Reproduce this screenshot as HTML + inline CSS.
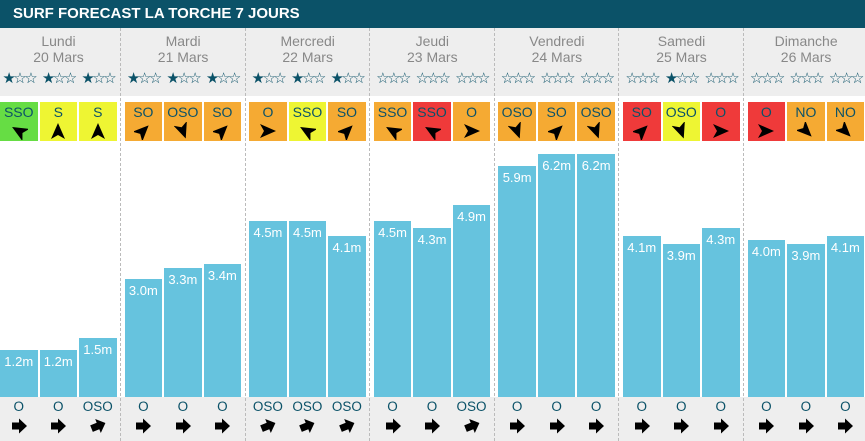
<!DOCTYPE html>
<html><head><meta charset="utf-8"><style>
*{margin:0;padding:0;box-sizing:border-box}
body{width:865px;height:441px;overflow:hidden;background:#fff;font-family:"Liberation Sans",Arial,sans-serif;position:relative}
.hdr{position:absolute;left:0;top:0;width:865px;height:28px;background:#0b5268;color:#fff;font-weight:bold;font-size:15px;line-height:28px;padding-left:13px}
.gtop{position:absolute;left:0;top:28px;width:865px;height:68px;background:#eeeeee}
.gbot{position:absolute;left:0;top:397px;width:865px;height:44px;background:#eeeeee}
.div{position:absolute;top:28px;height:413px;border-left:1px dashed #bbb;width:0}
.day{position:absolute;top:28px;width:117px;height:413px}
.dn{position:absolute;top:5px;left:0;width:117px;text-align:center;color:#888;font-size:14px;line-height:16px}
.s{position:absolute;width:37.5px}
.st{top:43px;height:15px;font-family:"DejaVu Sans",sans-serif;font-size:15px;color:#0b5268;text-align:center;letter-spacing:-2.5px;line-height:15px;white-space:nowrap;overflow:visible}
.w{top:74px;height:39px;text-align:center;color:#0b5268;font-size:14px;line-height:15px;padding-top:3px}
.w svg{display:block;margin:2px auto 0}
.g{background:#66dd44}.y{background:#eef533}.o{background:#f5aa33}.r{background:#ef3a3a}
.b{background:#66c3de;color:#fff;font-size:13px;text-align:center;line-height:14px;padding-top:5px;bottom:44px}
.sw{top:372px;height:40px;text-align:center;color:#0b5268;font-size:13.5px;line-height:14px}
.sw svg{display:block;margin:4px auto 0}
</style></head><body>
<div class="hdr">SURF FORECAST LA TORCHE 7 JOURS</div>
<div class="gtop"></div><div class="gbot"></div>
<div class="div" style="left:120px"></div><div class="div" style="left:245px"></div><div class="div" style="left:369px"></div><div class="div" style="left:494px"></div><div class="div" style="left:618px"></div><div class="div" style="left:743px"></div>
<svg width="0" height="0" style="position:absolute"><defs>
<path id="wa" d="M0 -8 L7 8 L0 4 L-7 8 Z" fill="#000"/>
<path id="sa" d="M-7 -3.5 H0 V-7.5 L8 0 L0 7.5 V3.5 H-7 Z" fill="#000"/>
</defs></svg>

<!-- Day 1 -->
<div class="day" style="left:0px"><div class="dn">Lundi<br>20 Mars</div>
<div class="s st" style="left:0">★☆☆</div><div class="s st" style="left:39.5px">★☆☆</div><div class="s st" style="left:79px">★☆☆</div>
<div class="s w g" style="left:0">SSO<svg width="18" height="18" viewBox="-9 -9 18 18"><use href="#wa" transform="rotate(-60)"/></svg></div>
<div class="s w y" style="left:39.5px">S<svg width="18" height="18" viewBox="-9 -9 18 18"><use href="#wa"/></svg></div>
<div class="s w y" style="left:79px">S<svg width="18" height="18" viewBox="-9 -9 18 18"><use href="#wa"/></svg></div>
<div class="s b" style="left:0;height:47px">1.2m</div><div class="s b" style="left:39.5px;height:47px">1.2m</div><div class="s b" style="left:79px;height:59px">1.5m</div>
<div class="s sw" style="left:0">O<svg width="18" height="16" viewBox="-9 -8 18 16"><use href="#sa"/></svg></div>
<div class="s sw" style="left:39.5px">O<svg width="18" height="16" viewBox="-9 -8 18 16"><use href="#sa"/></svg></div>
<div class="s sw" style="left:79px">OSO<svg width="18" height="16" viewBox="-9 -8 18 16"><use href="#sa" transform="rotate(-22)"/></svg></div>
</div>

<!-- Day 2 -->
<div class="day" style="left:124.6px"><div class="dn">Mardi<br>21 Mars</div>
<div class="s st" style="left:0">★☆☆</div><div class="s st" style="left:39.5px">★☆☆</div><div class="s st" style="left:79px">★☆☆</div>
<div class="s w o" style="left:0">SO<svg width="18" height="18" viewBox="-9 -9 18 18"><use href="#wa" transform="rotate(45)"/></svg></div>
<div class="s w o" style="left:39.5px">OSO<svg width="18" height="18" viewBox="-9 -9 18 18"><use href="#wa" transform="rotate(160)"/></svg></div>
<div class="s w o" style="left:79px">SO<svg width="18" height="18" viewBox="-9 -9 18 18"><use href="#wa" transform="rotate(45)"/></svg></div>
<div class="s b" style="left:0;height:118px">3.0m</div><div class="s b" style="left:39.5px;height:129px">3.3m</div><div class="s b" style="left:79px;height:133px">3.4m</div>
<div class="s sw" style="left:0">O<svg width="18" height="16" viewBox="-9 -8 18 16"><use href="#sa"/></svg></div>
<div class="s sw" style="left:39.5px">O<svg width="18" height="16" viewBox="-9 -8 18 16"><use href="#sa"/></svg></div>
<div class="s sw" style="left:79px">O<svg width="18" height="16" viewBox="-9 -8 18 16"><use href="#sa"/></svg></div>
</div>

<!-- Day 3 -->
<div class="day" style="left:249.2px"><div class="dn">Mercredi<br>22 Mars</div>
<div class="s st" style="left:0">★☆☆</div><div class="s st" style="left:39.5px">★☆☆</div><div class="s st" style="left:79px">★☆☆</div>
<div class="s w o" style="left:0">O<svg width="18" height="18" viewBox="-9 -9 18 18"><use href="#wa" transform="rotate(90)"/></svg></div>
<div class="s w y" style="left:39.5px">SSO<svg width="18" height="18" viewBox="-9 -9 18 18"><use href="#wa" transform="rotate(-60)"/></svg></div>
<div class="s w o" style="left:79px">SO<svg width="18" height="18" viewBox="-9 -9 18 18"><use href="#wa" transform="rotate(45)"/></svg></div>
<div class="s b" style="left:0;height:176px">4.5m</div><div class="s b" style="left:39.5px;height:176px">4.5m</div><div class="s b" style="left:79px;height:161px">4.1m</div>
<div class="s sw" style="left:0">OSO<svg width="18" height="16" viewBox="-9 -8 18 16"><use href="#sa" transform="rotate(-22)"/></svg></div>
<div class="s sw" style="left:39.5px">OSO<svg width="18" height="16" viewBox="-9 -8 18 16"><use href="#sa" transform="rotate(-22)"/></svg></div>
<div class="s sw" style="left:79px">OSO<svg width="18" height="16" viewBox="-9 -8 18 16"><use href="#sa" transform="rotate(-22)"/></svg></div>
</div>

<!-- Day 4 -->
<div class="day" style="left:373.8px"><div class="dn">Jeudi<br>23 Mars</div>
<div class="s st" style="left:0">☆☆☆</div><div class="s st" style="left:39.5px">☆☆☆</div><div class="s st" style="left:79px">☆☆☆</div>
<div class="s w o" style="left:0">SSO<svg width="18" height="18" viewBox="-9 -9 18 18"><use href="#wa" transform="rotate(-60)"/></svg></div>
<div class="s w r" style="left:39.5px">SSO<svg width="18" height="18" viewBox="-9 -9 18 18"><use href="#wa" transform="rotate(-60)"/></svg></div>
<div class="s w o" style="left:79px">O<svg width="18" height="18" viewBox="-9 -9 18 18"><use href="#wa" transform="rotate(90)"/></svg></div>
<div class="s b" style="left:0;height:176px">4.5m</div><div class="s b" style="left:39.5px;height:169px">4.3m</div><div class="s b" style="left:79px;height:192px">4.9m</div>
<div class="s sw" style="left:0">O<svg width="18" height="16" viewBox="-9 -8 18 16"><use href="#sa"/></svg></div>
<div class="s sw" style="left:39.5px">O<svg width="18" height="16" viewBox="-9 -8 18 16"><use href="#sa"/></svg></div>
<div class="s sw" style="left:79px">OSO<svg width="18" height="16" viewBox="-9 -8 18 16"><use href="#sa" transform="rotate(-22)"/></svg></div>
</div>

<!-- Day 5 -->
<div class="day" style="left:498.4px"><div class="dn">Vendredi<br>24 Mars</div>
<div class="s st" style="left:0">☆☆☆</div><div class="s st" style="left:39.5px">☆☆☆</div><div class="s st" style="left:79px">☆☆☆</div>
<div class="s w o" style="left:0">OSO<svg width="18" height="18" viewBox="-9 -9 18 18"><use href="#wa" transform="rotate(160)"/></svg></div>
<div class="s w o" style="left:39.5px">SO<svg width="18" height="18" viewBox="-9 -9 18 18"><use href="#wa" transform="rotate(45)"/></svg></div>
<div class="s w o" style="left:79px">OSO<svg width="18" height="18" viewBox="-9 -9 18 18"><use href="#wa" transform="rotate(160)"/></svg></div>
<div class="s b" style="left:0;height:231px">5.9m</div><div class="s b" style="left:39.5px;height:243px">6.2m</div><div class="s b" style="left:79px;height:243px">6.2m</div>
<div class="s sw" style="left:0">O<svg width="18" height="16" viewBox="-9 -8 18 16"><use href="#sa"/></svg></div>
<div class="s sw" style="left:39.5px">O<svg width="18" height="16" viewBox="-9 -8 18 16"><use href="#sa"/></svg></div>
<div class="s sw" style="left:79px">O<svg width="18" height="16" viewBox="-9 -8 18 16"><use href="#sa"/></svg></div>
</div>

<!-- Day 6 -->
<div class="day" style="left:623px"><div class="dn">Samedi<br>25 Mars</div>
<div class="s st" style="left:0">☆☆☆</div><div class="s st" style="left:39.5px">★☆☆</div><div class="s st" style="left:79px">☆☆☆</div>
<div class="s w r" style="left:0">SO<svg width="18" height="18" viewBox="-9 -9 18 18"><use href="#wa" transform="rotate(45)"/></svg></div>
<div class="s w y" style="left:39.5px">OSO<svg width="18" height="18" viewBox="-9 -9 18 18"><use href="#wa" transform="rotate(160)"/></svg></div>
<div class="s w r" style="left:79px">O<svg width="18" height="18" viewBox="-9 -9 18 18"><use href="#wa" transform="rotate(90)"/></svg></div>
<div class="s b" style="left:0;height:161px">4.1m</div><div class="s b" style="left:39.5px;height:153px">3.9m</div><div class="s b" style="left:79px;height:169px">4.3m</div>
<div class="s sw" style="left:0">O<svg width="18" height="16" viewBox="-9 -8 18 16"><use href="#sa"/></svg></div>
<div class="s sw" style="left:39.5px">O<svg width="18" height="16" viewBox="-9 -8 18 16"><use href="#sa"/></svg></div>
<div class="s sw" style="left:79px">O<svg width="18" height="16" viewBox="-9 -8 18 16"><use href="#sa"/></svg></div>
</div>

<!-- Day 7 -->
<div class="day" style="left:747.6px"><div class="dn">Dimanche<br>26 Mars</div>
<div class="s st" style="left:0">☆☆☆</div><div class="s st" style="left:39.5px">☆☆☆</div><div class="s st" style="left:79px">☆☆☆</div>
<div class="s w r" style="left:0">O<svg width="18" height="18" viewBox="-9 -9 18 18"><use href="#wa" transform="rotate(90)"/></svg></div>
<div class="s w o" style="left:39.5px">NO<svg width="18" height="18" viewBox="-9 -9 18 18"><use href="#wa" transform="rotate(135)"/></svg></div>
<div class="s w o" style="left:79px">NO<svg width="18" height="18" viewBox="-9 -9 18 18"><use href="#wa" transform="rotate(135)"/></svg></div>
<div class="s b" style="left:0;height:157px">4.0m</div><div class="s b" style="left:39.5px;height:153px">3.9m</div><div class="s b" style="left:79px;height:161px">4.1m</div>
<div class="s sw" style="left:0">O<svg width="18" height="16" viewBox="-9 -8 18 16"><use href="#sa"/></svg></div>
<div class="s sw" style="left:39.5px">O<svg width="18" height="16" viewBox="-9 -8 18 16"><use href="#sa"/></svg></div>
<div class="s sw" style="left:79px">O<svg width="18" height="16" viewBox="-9 -8 18 16"><use href="#sa"/></svg></div>
</div>
</body></html>
